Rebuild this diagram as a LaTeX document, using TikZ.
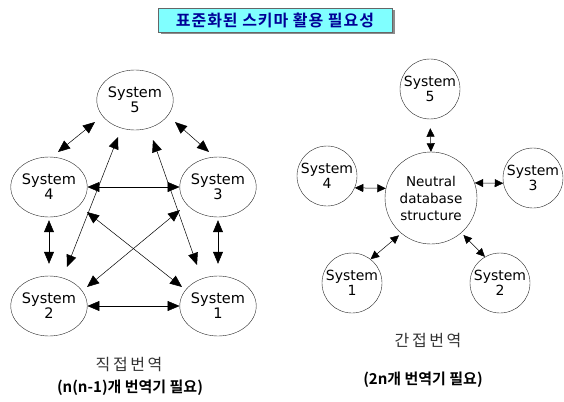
\documentclass[tikz,border=0pt]{standalone}
\usepackage{fontspec}
\setmainfont{DejaVu Sans}
\newfontfamily\krfont[BoldFont={Noto Sans CJK KR Bold}]{Noto Sans CJK KR}
\newfontfamily\krwide[LetterSpace=16]{Noto Sans CJK KR}
\newfontfamily\krtitle[LetterSpace=6]{Noto Sans CJK KR Bold}
\usetikzlibrary{shapes.geometric, arrows.meta, positioning, shadows}
\definecolor{titlecyan}{RGB}{128,255,255}
\definecolor{titleblue}{RGB}{0,0,150}
\tikzset{
  sysl/.style  = {ellipse, draw=black!85, minimum width=70pt, minimum height=60pt,
                  inner sep=0pt, align=center, font=\fontsize{14.5}{15}\selectfont},
  sysr/.style  = {circle, draw=black!85, minimum size=60pt, inner sep=0pt,
                  align=center, font=\fontsize{14}{15}\selectfont},
  hub/.style   = {circle, draw=black!85, minimum size=92pt, inner sep=0pt,
                  align=center, font=\fontsize{13.5}{17}\selectfont},
  banner/.style = {rectangle, draw=black!60, fill=titlecyan, minimum width=234pt,
                  minimum height=24pt, inner sep=0pt, text=titleblue,
                  font=\krtitle\fontsize{16}{16}\selectfont,
                  drop shadow={shadow xshift=2.5pt, shadow yshift=-2.5pt,
                               fill=black!45, opacity=1}},
  bigarr/.style   = {{Triangle[length=12pt,width=10pt]}-{Triangle[length=12pt,width=10pt]},
                  draw=black, line width=0.5pt},
  smallarr/.style = {{Triangle[length=8.5pt,width=8pt]}-{Triangle[length=8.5pt,width=8pt]},
                  draw=black, line width=0.5pt},
  kind/.style  = {font=\krwide\fontsize{16}{16}\selectfont, text=black!80, inner sep=0pt},
  need/.style  = {font=\krfont\bfseries\fontsize{15}{15}\selectfont, inner sep=0pt},
}

\begin{document}
\begin{tikzpicture}[x=1pt, y=-1pt]
  \useasboundingbox (0,0) rectangle (564,401);

  \node[banner] (title) at (275,20) {표준화된 스키마 활용 필요성};

  % direct translation
  \node[sysl] (l5) at (135,100) {System\\5};
  \node[sysl] (l4) at (49,187)  {System\\4};
  \node[sysl] (l3) at (218,187) {System\\3};
  \node[sysl] (l2) at (49,306)  {System\\2};
  \node[sysl] (l1) at (218,306) {System\\1};

  \draw[bigarr] ([shift={(-40,22)}]l5.center) -- ([shift={(9,-35)}]l4.center);
  \draw[bigarr] ([shift={(40,22)}]l5.center)  -- ([shift={(-9,-35)}]l3.center);
  \draw[bigarr] (l4.east) -- (l3.west);
  \draw[bigarr] (l2.east) -- (l1.west);
  \draw[bigarr, shorten <=3pt, shorten >=12pt] (l4.south) -- (l2.north);
  \draw[bigarr, shorten <=3pt, shorten >=12pt] (l3.south) -- (l1.north);
  \draw[bigarr] ([shift={(-17,37)}]l5.center) -- ([shift={(18,-39)}]l2.center);
  \draw[bigarr] ([shift={(18,40)}]l5.center)  -- ([shift={(-21,-41)}]l1.center);
  \draw[bigarr] ([shift={(38,25)}]l4.center)  -- ([shift={(-36,-19)}]l1.center);
  \draw[bigarr] ([shift={(-38,23)}]l3.center) -- ([shift={(38,-19)}]l2.center);

  \node[kind] (direct) at (129,365) {직접번역};
  \node[need] (directn) at (130,388) {(n(n-1)개 번역기 필요)};

  % indirect translation
  \node[hub]  (nds) at (431,198) {Neutral\\database\\structure};
  \node[sysr] (r5)  at (430,89)  {System\\5};
  \node[sysr] (r4)  at (327,176) {System\\4};
  \node[sysr] (r3)  at (533,178) {System\\3};
  \node[sysr] (r1)  at (352,283) {System\\1};
  \node[sysr] (r2)  at (500,283) {System\\2};

  \draw[smallarr, shorten <=9pt] (r5.south) -- (nds.north);
  \draw[smallarr] (r4.-23) -- (nds.168);
  \draw[smallarr] (nds.19) -- (r3.190);
  \draw[smallarr, shorten <=3pt] (nds.230) -- (r1.52);
  \draw[smallarr, shorten <=3pt] (nds.-49) -- (r2.120);

  \node[kind] (indirect) at (428,341) {간접번역};
  \node[need] (indirectn) at (423,380) {(2n개 번역기 필요)};
\end{tikzpicture}
\end{document}
